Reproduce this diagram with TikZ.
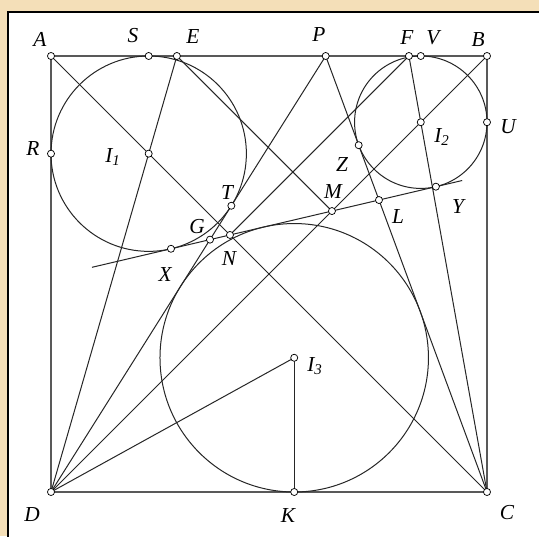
\documentclass[tikz,border=0pt]{standalone}
\usepackage{fontspec}
\setmainfont{Liberation Serif}
\definecolor{bgc}{RGB}{244,223,184}
\begin{document}
\begin{tikzpicture}[x=327pt,y=327pt,
  ln/.style={line width=0.75pt, draw=black!85},
  sq/.style={line width=0.8pt, draw=black!65},
  pt/.style={circle, draw=black, fill=white, line width=0.55pt, inner sep=0pt, minimum size=5.3pt},
  lab/.style={font=\fontsize{16}{18}\selectfont\itshape, inner sep=0pt}]
\useasboundingbox (-0.11697,-0.10092) rectangle (1.11927,1.12844);
\fill[bgc] (-0.11697,-0.10092) rectangle (1.11927,1.12844);
\fill[white] (-0.0986,-0.10092) rectangle (1.11927,1.1009);
\draw[line width=1.6pt] (-0.0986,-0.11) -- (-0.0986,1.1009) -- (1.13,1.1009);
% points
\coordinate (A) at (0,1);
\coordinate (B) at (1,1);
\coordinate (C) at (1,0);
\coordinate (D) at (0,0);
\coordinate (P) at (0.63,1);
\coordinate (I1) at (0.224045,0.775955);
\coordinate (I2) at (0.84813,0.84813);
\coordinate (I3) at (0.557825,0.307866);
\coordinate (R) at (0,0.775955);
\coordinate (S) at (0.224045,1);
\coordinate (E) at (0.288734,1);
\coordinate (F) at (0.820935,1);
\coordinate (V) at (0.84813,1);
\coordinate (U) at (1,0.84813);
\coordinate (K) at (0.557825,0);
\coordinate (T) at (0.413609,0.656526);
\coordinate (Z) at (0.705694,0.795420);
\coordinate (X) at (0.275182,0.557827);
\coordinate (Y) at (0.882794,0.700271);
\coordinate (M) at (0.644376,0.644376);
\coordinate (N) at (0.410465,0.589535);
\coordinate (L) at (0.752226,0.669659);
\coordinate (G) at (0.364641,0.578795);
\coordinate (t1) at (0.094,0.51535);
\coordinate (t2) at (0.943,0.71438);
% square
\draw[sq] (A) -- (B) -- (C) -- (D) -- cycle;
% circles
\draw[ln] (I1) circle (0.224045);
\draw[ln] (I2) circle (0.15187);
\draw[ln] (I3) circle (0.307866);
% lines
\draw[ln] (D) -- (E);
\draw[ln] (D) -- (P);
\draw[ln] (D) -- (B);
\draw[ln] (D) -- (I3);
\draw[ln] (C) -- (A);
\draw[ln] (C) -- (P);
\draw[ln] (C) -- (F);
\draw[ln] (E) -- (M);
\draw[ln] (F) -- (N);
\draw[ln] (I3) -- (K);
\draw[ln] (t1) -- (t2);
% markers
\foreach \p in {A,B,C,D,P,I1,I2,I3,R,S,E,F,V,U,K,T,Z,X,Y,M,N,L,G}
  \node[pt] (m\p) at (\p) {};
% labels
\node[lab] (lA) at (-0.0252,1.0390) {A};
\node[lab] (lS) at (0.1881,1.0459) {S};
\node[lab] (lE) at (0.3257,1.0436) {E};
\node[lab] (lP) at (0.6147,1.0482) {P};
\node[lab] (lF) at (0.8165,1.0413) {F};
\node[lab] (lV) at (0.8761,1.0413) {V};
\node[lab] (lB) at (0.9794,1.0367) {B};
\node[lab] (lR) at (-0.0413,0.7867) {R};
\node[lab] (lI1) at (0.1422,0.7683) {I\textsubscript{1}};
\node[lab] (lU) at (1.0482,0.8372) {U};
\node[lab] (lI2) at (0.8968,0.8142) {I\textsubscript{2}};
\node[lab] (lZ) at (0.6674,0.7500) {Z};
\node[lab] (lM) at (0.6468,0.6881) {M};
\node[lab] (lL) at (0.7959,0.6307) {L};
\node[lab] (lY) at (0.9335,0.6537) {Y};
\node[lab] (lT) at (0.4037,0.6858) {T};
\node[lab] (lG) at (0.3349,0.6078) {G};
\node[lab] (lX) at (0.2615,0.4977) {X};
\node[lab] (lN) at (0.4083,0.5344) {N};
\node[lab] (lI3) at (0.6055,0.2890) {I\textsubscript{3}};
\node[lab] (lD) at (-0.0436,-0.0528) {D};
\node[lab] (lK) at (0.5436,-0.0528) {K};
\node[lab] (lC) at (1.0459,-0.0482) {C};
\end{tikzpicture}
\end{document}
